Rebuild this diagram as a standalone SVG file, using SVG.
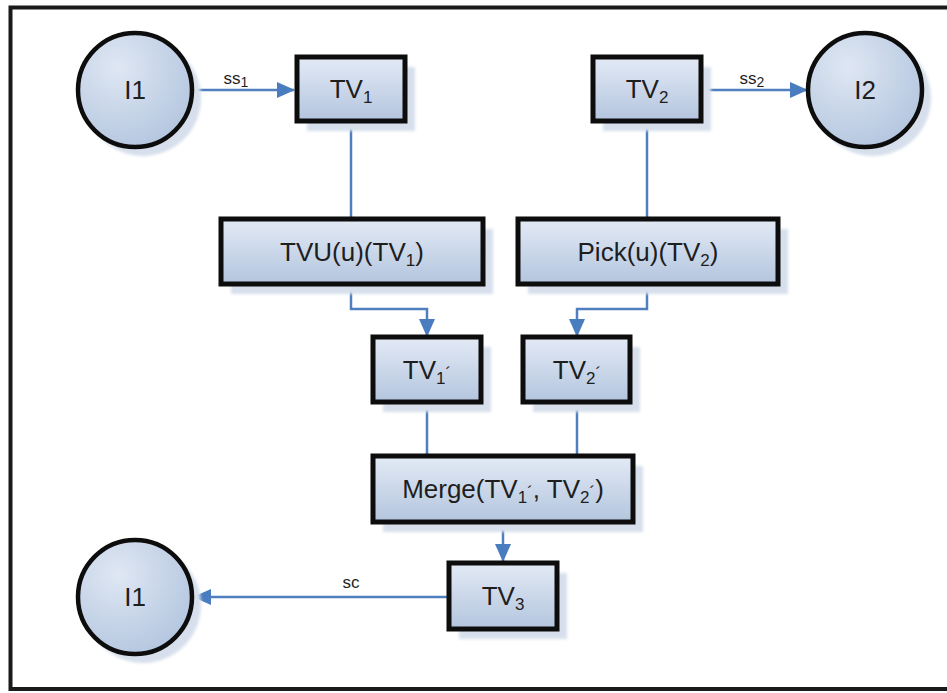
<svg xmlns="http://www.w3.org/2000/svg" width="947" height="693" viewBox="0 0 947 693">
<defs>
<linearGradient id="gBox" x1="0" y1="0" x2="0" y2="1">
<stop offset="0" stop-color="#e3eaf5"/>
<stop offset="1" stop-color="#b3c5de"/>
</linearGradient>
<radialGradient id="gCirc" cx="0.35" cy="0.3" r="0.8">
<stop offset="0" stop-color="#dfe7f3"/>
<stop offset="1" stop-color="#b1c4de"/>
</radialGradient>
<filter id="blur" x="-20%" y="-20%" width="140%" height="140%">
<feGaussianBlur stdDeviation="1.5"/>
</filter>
<marker id="arr" markerUnits="userSpaceOnUse" markerWidth="18" markerHeight="16" viewBox="0 0 18 16" refX="17" refY="8" orient="auto">
<path d="M0,0 L18,8 L0,16 Z" fill="#4a7cc0"/>
</marker>
<style>
.box{fill:url(#gBox);stroke:#0d0d0d;stroke-width:5}
.circ{fill:url(#gCirc);stroke:#0d0d0d;stroke-width:4.5}
.sh{fill:#d6dfeb;filter:url(#blur)}
.t{font-family:"Liberation Sans",Arial,sans-serif;font-size:26px;fill:#1e1e1e;text-anchor:middle}
.lbl{font-family:"Liberation Sans",Arial,sans-serif;font-size:17px;fill:#1e1e1e;text-anchor:middle}
.sub{font-size:17px}
.sub2{font-size:14px}
.ln{fill:none;stroke:#4f7fbf;stroke-width:2.5}
.ar{marker-end:url(#arr)}
</style>
</defs>
<rect x="0" y="0" width="947" height="693" fill="#ffffff"/>
<rect x="10.5" y="7.5" width="945" height="681.5" fill="none" stroke="#1a1a1a" stroke-width="4"/>

<g id="connectors">
<path class="ln ar" d="M193 90 H294"/>
<path class="ln ar" d="M698 90 H807"/>
<path class="ln" d="M351 121 V219"/>
<path class="ln ar" d="M351 284 V309 H427 V336"/>
<path class="ln" d="M647 121 V219"/>
<path class="ln ar" d="M647 284 V309 H577 V336"/>
<path class="ln" d="M427 402 V455"/>
<path class="ln" d="M577 402 V455"/>
<path class="ln ar" d="M503 522 V561"/>
<path class="ln ar" d="M448 597 H194"/>
<text class="lbl" x="236" y="84">ss<tspan class="sub2" dy="3">1</tspan></text>
<text class="lbl" x="752" y="84">ss<tspan class="sub2" dy="3">2</tspan></text>
<text class="lbl" x="351" y="588">sc</text>
</g>

<g id="I1">
<circle class="sh" cx="143" cy="98" r="58"/>
<circle class="circ" cx="135" cy="90" r="57"/>
<text class="t" x="135" y="99">I1</text>
</g>
<g id="TV1">
<rect class="sh" x="307" y="67" width="108" height="64"/>
<rect class="box" x="297" y="57" width="108" height="64"/>
<text class="t" x="351" y="98">TV<tspan class="sub" dy="5">1</tspan></text>
</g>
<g id="TV2">
<rect class="sh" x="603" y="67" width="108" height="64"/>
<rect class="box" x="593" y="57" width="108" height="64"/>
<text class="t" x="647" y="98">TV<tspan class="sub" dy="5">2</tspan></text>
</g>
<g id="I2">
<circle class="sh" cx="873" cy="98" r="58"/>
<circle class="circ" cx="865" cy="90" r="57"/>
<text class="t" x="865" y="99">I2</text>
</g>
<g id="TVU">
<rect class="sh" x="231" y="229" width="262" height="65"/>
<rect class="box" x="221" y="219" width="262" height="65"/>
<text class="t" x="352" y="261">TVU(u)(TV<tspan class="sub" dy="5">1</tspan><tspan dy="-5">)</tspan></text>
</g>
<g id="Pick">
<rect class="sh" x="528" y="229" width="260" height="65"/>
<rect class="box" x="518" y="219" width="260" height="65"/>
<text class="t" x="648" y="261">Pick(u)(TV<tspan class="sub" dy="5">2</tspan><tspan dy="-5">)</tspan></text>
</g>
<g id="TV1p">
<rect class="sh" x="383" y="347" width="108" height="65"/>
<rect class="box" x="373" y="337" width="108" height="65"/>
<text class="t" x="427" y="379">TV<tspan class="sub" dy="5">1</tspan><tspan class="sub" dy="-5">´</tspan></text>
</g>
<g id="TV2p">
<rect class="sh" x="533" y="347" width="107" height="65"/>
<rect class="box" x="523" y="337" width="107" height="65"/>
<text class="t" x="577" y="379">TV<tspan class="sub" dy="5">2</tspan><tspan class="sub" dy="-5">´</tspan></text>
</g>
<g id="Merge">
<rect class="sh" x="383" y="466" width="260" height="66"/>
<rect class="box" x="373" y="456" width="260" height="66"/>
<text class="t" x="503" y="498">Merge(TV<tspan class="sub" dy="5">1</tspan><tspan class="sub" dy="-5">´</tspan>, TV<tspan class="sub" dy="5">2</tspan><tspan class="sub" dy="-5">´</tspan>)</text>
</g>
<g id="TV3">
<rect class="sh" x="459" y="573" width="108" height="66"/>
<rect class="box" x="449" y="563" width="108" height="66"/>
<text class="t" x="503" y="605">TV<tspan class="sub" dy="5">3</tspan></text>
</g>
<g id="I1b">
<circle class="sh" cx="143" cy="605" r="58"/>
<circle class="circ" cx="135" cy="597" r="57"/>
<text class="t" x="135" y="606">I1</text>
</g>
</svg>
